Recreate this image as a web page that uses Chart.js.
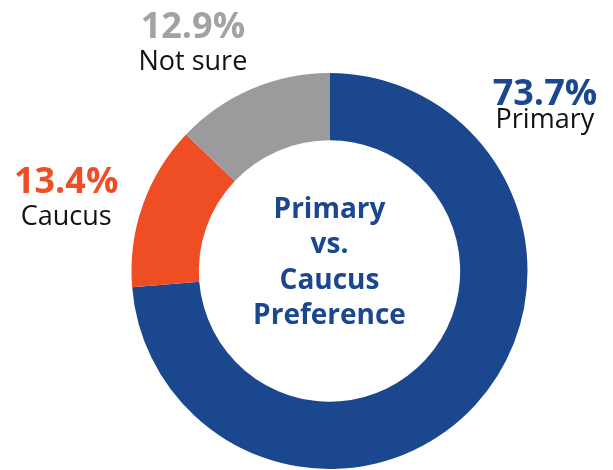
<!DOCTYPE html>
<html>
<head>
<meta charset="utf-8">
<script src="https://cdn.jsdelivr.net/npm/chart.js@4"></script>
<style>
  html, body { margin: 0; padding: 0; background: #ffffff; }
  #wrap { width: 613px; height: 470px; position: relative; }
</style>
</head>
<body>
<div id="wrap"><canvas id="chartCanvas"></canvas></div>
<script>
// data
var labels = ['Primary', 'Caucus', 'Not sure']
var values = [73.7, 13.4, 12.9]
var sliceColors = ['#1b478e', '#ef4e25', '#9b9b9d']
var pctColors = ['#1b478e', '#ef4e25', '#a2a2a4']
var centerLines = ['Primary', 'vs.', 'Caucus', 'Preference']

// where each outside label sits, in units of the outer radius from the centre
// gap = distance from the percent baseline down to the name baseline
var labelSpots = [
  { dx: 1.088, dy: -0.836, gap: 23 },
  { dx: -1.33, dy: -0.394, gap: 32 },
  { dx: -0.69, dy: -1.178, gap: 32 }
]

var labelPlugin = {
  id: 'labelPlugin',
  afterDatasetsDraw(chart) {
    var ctx = chart.ctx
    var arc = chart.getDatasetMeta(0).data[0]
    var cx = arc.x, cy = arc.y, r = arc.outerRadius
    ctx.save()
    ctx.textAlign = 'center'
    ctx.textBaseline = 'alphabetic'
    labels.forEach((lab, i) => {
      var x = cx + labelSpots[i].dx * r
      var y = cy + labelSpots[i].dy * r
      ctx.fillStyle = pctColors[i]
      ctx.font = 'bold 36px "Open Sans"'
      ctx.fillText(values[i].toFixed(1) + '%', x, y)
      ctx.fillStyle = '#111111'
      ctx.font = '27px "Open Sans"'
      ctx.fillText(lab, x, y + labelSpots[i].gap)
    })
    // text in the hole
    ctx.fillStyle = '#1b478e'
    ctx.font = 'bold 28px "Open Sans"'
    centerLines.forEach((line, i) => {
      ctx.fillText(line, cx, cy - 53 + i * 35.3)
    })
    ctx.restore()
  }
}

var myChart = new Chart(document.getElementById('chartCanvas'), {
  type: 'doughnut',
  data: {
    labels: labels,
    datasets: [{
      data: values,
      backgroundColor: sliceColors,
      borderWidth: 0,
      hoverOffset: 0
    }]
  },
  options: {
    responsive: true,
    maintainAspectRatio: false,
    animation: false,
    cutout: '66%',
    layout: { padding: { top: 73, bottom: 1, left: 131, right: 85 } },
    plugins: {
      legend: { display: false },
      tooltip: { enabled: false }
    }
  },
  plugins: [labelPlugin]
})
</script>
</body>
</html>
